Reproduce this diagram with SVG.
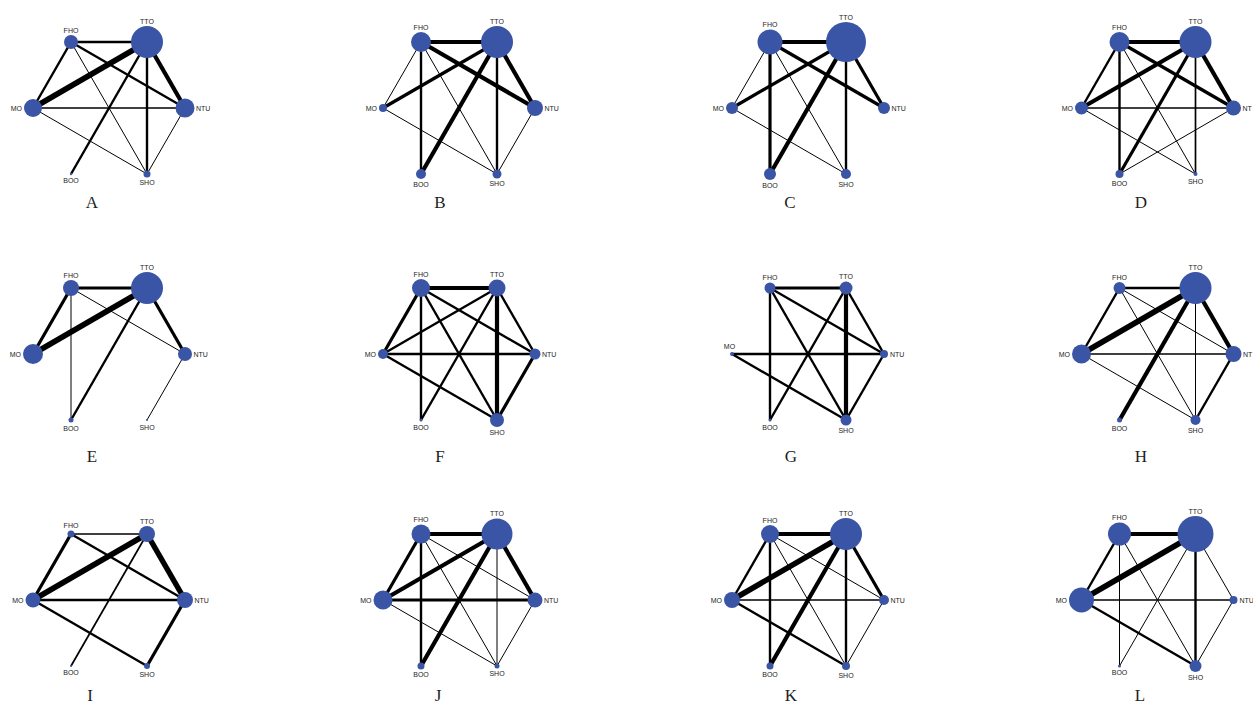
<svg xmlns="http://www.w3.org/2000/svg" width="1253" height="703" viewBox="0 0 1253 703">
<style>
.edges line{stroke:#000;stroke-linecap:butt;fill:none}
.e1{stroke-width:1}.e2{stroke-width:1.7}.e3{stroke-width:2.4}.e4{stroke-width:3.2}.e5{stroke-width:4.2}.e6{stroke-width:5.5}
.node circle{fill:#3A55A5}
.node text{font-family:"Liberation Sans",Arial,sans-serif;font-size:7px;fill:#1e1e1e}
.t{text-anchor:middle}.l{text-anchor:end}.r{text-anchor:start}
.cap{font-family:"Liberation Serif","Times New Roman",serif;font-size:17px;fill:#1e1e1e;text-anchor:middle}
</style>
<rect width="1253" height="703" fill="#fff"/>

<!-- Panel A -->
<g id="panel-A">
<g id="A-edges" class="edges">
<line class="e3" x1="71" y1="42" x2="147" y2="42"/>
<line class="e3" x1="71" y1="42" x2="33" y2="108"/>
<line class="e3" x1="71" y1="42" x2="185" y2="108"/>
<line class="e1" x1="71" y1="42" x2="147" y2="174"/>
<line class="e6" x1="147" y1="42" x2="33" y2="108"/>
<line class="e5" x1="147" y1="42" x2="185" y2="108"/>
<line class="e3" x1="147" y1="42" x2="71" y2="174"/>
<line class="e3" x1="147" y1="42" x2="147" y2="174"/>
<line class="e2" x1="33" y1="108" x2="185" y2="108"/>
<line class="e1" x1="33" y1="108" x2="147" y2="174"/>
<line class="e1" x1="185" y1="108" x2="147" y2="174"/>
</g>
<g id="A-FHO" class="node"><circle cx="71" cy="42" r="7"/><text class="t" x="71" y="32.5">FHO</text></g>
<g id="A-TTO" class="node"><circle cx="147" cy="42" r="16"/><text class="t" x="147" y="23.5">TTO</text></g>
<g id="A-MO" class="node"><circle cx="33" cy="108" r="9"/><text class="l" x="22" y="110.5">MO</text></g>
<g id="A-NTU" class="node"><circle cx="185" cy="108" r="9.5"/><text class="r" x="196" y="110.5">NTU</text></g>
<g id="A-BOO" class="node"><circle cx="71" cy="174" r="1.2"/><text class="t" x="71" y="182.5">BOO</text></g>
<g id="A-SHO" class="node"><circle cx="147" cy="174" r="3.5"/><text class="t" x="147" y="185">SHO</text></g>
<text class="cap" x="92" y="208">A</text>
</g>

<!-- Panel B -->
<g id="panel-B">
<g id="B-edges" class="edges">
<line class="e5" x1="421" y1="42" x2="497" y2="42"/>
<line class="e1" x1="421" y1="42" x2="383" y2="108"/>
<line class="e5" x1="421" y1="42" x2="535" y2="108"/>
<line class="e3" x1="421" y1="42" x2="421" y2="174"/>
<line class="e1" x1="421" y1="42" x2="497" y2="174"/>
<line class="e4" x1="497" y1="42" x2="383" y2="108"/>
<line class="e5" x1="497" y1="42" x2="535" y2="108"/>
<line class="e5" x1="497" y1="42" x2="421" y2="174"/>
<line class="e3" x1="497" y1="42" x2="497" y2="174"/>
<line class="e1" x1="383" y1="108" x2="497" y2="174"/>
<line class="e1" x1="535" y1="108" x2="497" y2="174"/>
</g>
<g id="B-FHO" class="node"><circle cx="421" cy="42" r="10"/><text class="t" x="421" y="29.5">FHO</text></g>
<g id="B-TTO" class="node"><circle cx="497" cy="42" r="16"/><text class="t" x="497" y="23.5">TTO</text></g>
<g id="B-MO" class="node"><circle cx="383" cy="108" r="4"/><text class="l" x="377" y="110.5">MO</text></g>
<g id="B-NTU" class="node"><circle cx="535" cy="108" r="8"/><text class="r" x="544.5" y="110.5">NTU</text></g>
<g id="B-BOO" class="node"><circle cx="421" cy="174" r="5"/><text class="t" x="421" y="186.5">BOO</text></g>
<g id="B-SHO" class="node"><circle cx="497" cy="174" r="4.5"/><text class="t" x="497" y="186">SHO</text></g>
<text class="cap" x="440" y="208">B</text>
</g>

<!-- Panel C -->
<g id="panel-C">
<g id="C-edges" class="edges">
<line class="e5" x1="770" y1="42" x2="846" y2="42"/>
<line class="e1" x1="770" y1="42" x2="732" y2="108"/>
<line class="e4" x1="770" y1="42" x2="884" y2="108"/>
<line class="e4" x1="770" y1="42" x2="770" y2="174"/>
<line class="e1" x1="770" y1="42" x2="846" y2="174"/>
<line class="e4" x1="846" y1="42" x2="732" y2="108"/>
<line class="e4" x1="846" y1="42" x2="884" y2="108"/>
<line class="e5" x1="846" y1="42" x2="770" y2="174"/>
<line class="e3" x1="846" y1="42" x2="846" y2="174"/>
<line class="e1" x1="732" y1="108" x2="846" y2="174"/>
</g>
<g id="C-FHO" class="node"><circle cx="770" cy="42" r="12.5"/><text class="t" x="770" y="27">FHO</text></g>
<g id="C-TTO" class="node"><circle cx="846" cy="42" r="20"/><text class="t" x="846" y="19.5">TTO</text></g>
<g id="C-MO" class="node"><circle cx="732" cy="108" r="6"/><text class="l" x="724" y="110.5">MO</text></g>
<g id="C-NTU" class="node"><circle cx="884" cy="108" r="6"/><text class="r" x="891.5" y="110.5">NTU</text></g>
<g id="C-BOO" class="node"><circle cx="770" cy="174" r="6"/><text class="t" x="770" y="187.5">BOO</text></g>
<g id="C-SHO" class="node"><circle cx="846" cy="174" r="5"/><text class="t" x="846" y="186.5">SHO</text></g>
<text class="cap" x="790" y="208">C</text>
</g>

<!-- Panel D -->
<g id="panel-D">
<g id="D-edges" class="edges">
<line class="e5" x1="1119.5" y1="42" x2="1195.5" y2="42"/>
<line class="e3" x1="1119.5" y1="42" x2="1081.5" y2="108"/>
<line class="e4" x1="1119.5" y1="42" x2="1233.5" y2="108"/>
<line class="e3" x1="1119.5" y1="42" x2="1119.5" y2="174"/>
<line class="e1" x1="1119.5" y1="42" x2="1195.5" y2="174"/>
<line class="e5" x1="1195.5" y1="42" x2="1081.5" y2="108"/>
<line class="e5" x1="1195.5" y1="42" x2="1233.5" y2="108"/>
<line class="e4" x1="1195.5" y1="42" x2="1119.5" y2="174"/>
<line class="e2" x1="1195.5" y1="42" x2="1195.5" y2="174"/>
<line class="e2" x1="1081.5" y1="108" x2="1233.5" y2="108"/>
<line class="e1" x1="1081.5" y1="108" x2="1195.5" y2="174"/>
<line class="e1" x1="1233.5" y1="108" x2="1119.5" y2="174"/>
</g>
<g id="D-FHO" class="node"><circle cx="1119.5" cy="42" r="10"/><text class="t" x="1119.5" y="29.5">FHO</text></g>
<g id="D-TTO" class="node"><circle cx="1195.5" cy="42" r="16"/><text class="t" x="1195.5" y="23.5">TTO</text></g>
<g id="D-MO" class="node"><circle cx="1081.5" cy="108" r="6.5"/><text class="l" x="1073" y="110.5">MO</text></g>
<g id="D-NTU" class="node"><circle cx="1233.5" cy="108" r="7.5"/><text class="r" x="1242.5" y="110.5">NT</text></g>
<g id="D-BOO" class="node"><circle cx="1119.5" cy="174" r="4"/><text class="t" x="1119.5" y="185.5">BOO</text></g>
<g id="D-SHO" class="node"><circle cx="1195.5" cy="174" r="2"/><text class="t" x="1195.5" y="183.5">SHO</text></g>
<text class="cap" x="1141" y="208">D</text>
</g>

<!-- Panel E -->
<g id="panel-E">
<g id="E-edges" class="edges">
<line class="e4" x1="71" y1="288" x2="147" y2="288"/>
<line class="e4" x1="71" y1="288" x2="33" y2="354"/>
<line class="e1" x1="71" y1="288" x2="185" y2="354"/>
<line class="e1" x1="71" y1="288" x2="71" y2="420"/>
<line class="e6" x1="147" y1="288" x2="33" y2="354"/>
<line class="e4" x1="147" y1="288" x2="185" y2="354"/>
<line class="e3" x1="147" y1="288" x2="71" y2="420"/>
<line class="e1" x1="185" y1="354" x2="147" y2="420"/>
</g>
<g id="E-FHO" class="node"><circle cx="71" cy="288" r="8"/><text class="t" x="71" y="277.5">FHO</text></g>
<g id="E-TTO" class="node"><circle cx="147" cy="288" r="16"/><text class="t" x="147" y="269.5">TTO</text></g>
<g id="E-MO" class="node"><circle cx="33" cy="354" r="10"/><text class="l" x="21" y="356.5">MO</text></g>
<g id="E-NTU" class="node"><circle cx="185" cy="354" r="7"/><text class="r" x="193.5" y="356.5">NTU</text></g>
<g id="E-BOO" class="node"><circle cx="71" cy="420" r="2.5"/><text class="t" x="71" y="430.5">BOO</text></g>
<g id="E-SHO" class="node"><circle cx="147" cy="420" r="1"/><text class="t" x="147" y="429.5">SHO</text></g>
<text class="cap" x="92" y="462">E</text>
</g>

<!-- Panel F -->
<g id="panel-F">
<g id="F-edges" class="edges">
<line class="e5" x1="421" y1="288" x2="497" y2="288"/>
<line class="e4" x1="421" y1="288" x2="383" y2="354"/>
<line class="e3" x1="421" y1="288" x2="535" y2="354"/>
<line class="e3" x1="421" y1="288" x2="421" y2="420"/>
<line class="e3" x1="421" y1="288" x2="497" y2="420"/>
<line class="e3" x1="497" y1="288" x2="383" y2="354"/>
<line class="e3" x1="497" y1="288" x2="535" y2="354"/>
<line class="e3" x1="497" y1="288" x2="421" y2="420"/>
<line class="e5" x1="497" y1="288" x2="497" y2="420"/>
<line class="e3" x1="383" y1="354" x2="535" y2="354"/>
<line class="e3" x1="383" y1="354" x2="497" y2="420"/>
<line class="e4" x1="535" y1="354" x2="497" y2="420"/>
</g>
<g id="F-FHO" class="node"><circle cx="421" cy="288" r="9"/><text class="t" x="421" y="276.5">FHO</text></g>
<g id="F-TTO" class="node"><circle cx="497" cy="288" r="8.5"/><text class="t" x="497" y="277">TTO</text></g>
<g id="F-MO" class="node"><circle cx="383" cy="354" r="5"/><text class="l" x="376" y="356.5">MO</text></g>
<g id="F-NTU" class="node"><circle cx="535" cy="354" r="5.5"/><text class="r" x="542" y="356.5">NTU</text></g>
<g id="F-BOO" class="node"><circle cx="421" cy="420" r="1.5"/><text class="t" x="421" y="429.5">BOO</text></g>
<g id="F-SHO" class="node"><circle cx="497" cy="420" r="7"/><text class="t" x="497" y="434.5">SHO</text></g>
<text class="cap" x="440" y="462">F</text>
</g>

<!-- Panel G -->
<g id="panel-G">
<g id="G-edges" class="edges">
<line class="e4" x1="770" y1="288" x2="846" y2="288"/>
<line class="e3" x1="770" y1="288" x2="884" y2="354"/>
<line class="e3" x1="770" y1="288" x2="770" y2="420"/>
<line class="e3" x1="770" y1="288" x2="846" y2="420"/>
<line class="e3" x1="846" y1="288" x2="884" y2="354"/>
<line class="e3" x1="846" y1="288" x2="770" y2="420"/>
<line class="e5" x1="846" y1="288" x2="846" y2="420"/>
<line class="e3" x1="732" y1="354" x2="884" y2="354"/>
<line class="e3" x1="732" y1="354" x2="846" y2="420"/>
<line class="e3" x1="884" y1="354" x2="846" y2="420"/>
</g>
<g id="G-FHO" class="node"><circle cx="770" cy="288" r="5.5"/><text class="t" x="770" y="280">FHO</text></g>
<g id="G-TTO" class="node"><circle cx="846" cy="288" r="6.5"/><text class="t" x="846" y="279">TTO</text></g>
<g id="G-MO" class="node"><circle cx="732" cy="354" r="2"/><text class="t" x="729.5" y="349">MO</text></g>
<g id="G-NTU" class="node"><circle cx="884" cy="354" r="4"/><text class="r" x="890" y="356.5">NTU</text></g>
<g id="G-BOO" class="node"><circle cx="770" cy="420" r="1.5"/><text class="t" x="770" y="429.5">BOO</text></g>
<g id="G-SHO" class="node"><circle cx="846" cy="420" r="5.5"/><text class="t" x="846" y="433">SHO</text></g>
<text class="cap" x="791" y="462">G</text>
</g>

<!-- Panel H -->
<g id="panel-H">
<g id="H-edges" class="edges">
<line class="e3" x1="1119.5" y1="288" x2="1195.5" y2="288"/>
<line class="e3" x1="1119.5" y1="288" x2="1081.5" y2="354"/>
<line class="e1" x1="1119.5" y1="288" x2="1233.5" y2="354"/>
<line class="e1" x1="1119.5" y1="288" x2="1195.5" y2="420"/>
<line class="e6" x1="1195.5" y1="288" x2="1081.5" y2="354"/>
<line class="e5" x1="1195.5" y1="288" x2="1233.5" y2="354"/>
<line class="e5" x1="1195.5" y1="288" x2="1119.5" y2="420"/>
<line class="e1" x1="1195.5" y1="288" x2="1195.5" y2="420"/>
<line class="e2" x1="1081.5" y1="354" x2="1233.5" y2="354"/>
<line class="e1" x1="1081.5" y1="354" x2="1195.5" y2="420"/>
<line class="e3" x1="1233.5" y1="354" x2="1195.5" y2="420"/>
</g>
<g id="H-FHO" class="node"><circle cx="1119.5" cy="288" r="6"/><text class="t" x="1119.5" y="279.5">FHO</text></g>
<g id="H-TTO" class="node"><circle cx="1195.5" cy="288" r="16"/><text class="t" x="1195.5" y="269.5">TTO</text></g>
<g id="H-MO" class="node"><circle cx="1081.5" cy="354" r="9.5"/><text class="l" x="1070" y="356.5">MO</text></g>
<g id="H-NTU" class="node"><circle cx="1233.5" cy="354" r="8"/><text class="r" x="1243" y="356.5">NT</text></g>
<g id="H-BOO" class="node"><circle cx="1119.5" cy="420" r="2.5"/><text class="t" x="1119.5" y="430.5">BOO</text></g>
<g id="H-SHO" class="node"><circle cx="1195.5" cy="420" r="5"/><text class="t" x="1195.5" y="433">SHO</text></g>
<text class="cap" x="1141" y="462">H</text>
</g>

<!-- Panel I -->
<g id="panel-I">
<g id="I-edges" class="edges">
<line class="e2" x1="71" y1="534" x2="147" y2="534"/>
<line class="e4" x1="71" y1="534" x2="33" y2="600"/>
<line class="e3" x1="71" y1="534" x2="185" y2="600"/>
<line class="e6" x1="147" y1="534" x2="33" y2="600"/>
<line class="e6" x1="147" y1="534" x2="185" y2="600"/>
<line class="e2" x1="147" y1="534" x2="71" y2="666"/>
<line class="e3" x1="33" y1="600" x2="185" y2="600"/>
<line class="e3" x1="33" y1="600" x2="147" y2="666"/>
<line class="e4" x1="185" y1="600" x2="147" y2="666"/>
</g>
<g id="I-FHO" class="node"><circle cx="71" cy="534" r="3.5"/><text class="t" x="71" y="528">FHO</text></g>
<g id="I-TTO" class="node"><circle cx="147" cy="534" r="8"/><text class="t" x="147" y="523.5">TTO</text></g>
<g id="I-MO" class="node"><circle cx="33" cy="600" r="7.5"/><text class="l" x="23.5" y="602.5">MO</text></g>
<g id="I-NTU" class="node"><circle cx="185" cy="600" r="8"/><text class="r" x="194.5" y="602.5">NTU</text></g>
<g id="I-BOO" class="node"><circle cx="71" cy="666" r="1"/><text class="t" x="71" y="675">BOO</text></g>
<g id="I-SHO" class="node"><circle cx="147" cy="666" r="3"/><text class="t" x="147" y="677">SHO</text></g>
<text class="cap" x="90" y="701">I</text>
</g>

<!-- Panel J -->
<g id="panel-J">
<g id="J-edges" class="edges">
<line class="e5" x1="421" y1="534" x2="497" y2="534"/>
<line class="e4" x1="421" y1="534" x2="383" y2="600"/>
<line class="e1" x1="421" y1="534" x2="535" y2="600"/>
<line class="e3" x1="421" y1="534" x2="421" y2="666"/>
<line class="e1" x1="421" y1="534" x2="497" y2="666"/>
<line class="e5" x1="497" y1="534" x2="383" y2="600"/>
<line class="e5" x1="497" y1="534" x2="535" y2="600"/>
<line class="e5" x1="497" y1="534" x2="421" y2="666"/>
<line class="e1" x1="497" y1="534" x2="497" y2="666"/>
<line class="e4" x1="383" y1="600" x2="535" y2="600"/>
<line class="e1" x1="383" y1="600" x2="497" y2="666"/>
<line class="e1" x1="535" y1="600" x2="497" y2="666"/>
</g>
<g id="J-FHO" class="node"><circle cx="421" cy="534" r="9.5"/><text class="t" x="421" y="522">FHO</text></g>
<g id="J-TTO" class="node"><circle cx="497" cy="534" r="15.5"/><text class="t" x="497" y="516">TTO</text></g>
<g id="J-MO" class="node"><circle cx="383" cy="600" r="9.5"/><text class="l" x="371.5" y="602.5">MO</text></g>
<g id="J-NTU" class="node"><circle cx="535" cy="600" r="7.5"/><text class="r" x="544" y="602.5">NTU</text></g>
<g id="J-BOO" class="node"><circle cx="421" cy="666" r="3.5"/><text class="t" x="421" y="677">BOO</text></g>
<g id="J-SHO" class="node"><circle cx="497" cy="666" r="2.5"/><text class="t" x="497" y="676">SHO</text></g>
<text class="cap" x="438" y="701">J</text>
</g>

<!-- Panel K -->
<g id="panel-K">
<g id="K-edges" class="edges">
<line class="e5" x1="770" y1="534" x2="846" y2="534"/>
<line class="e3" x1="770" y1="534" x2="732" y2="600"/>
<line class="e1" x1="770" y1="534" x2="884" y2="600"/>
<line class="e3" x1="770" y1="534" x2="770" y2="666"/>
<line class="e1" x1="770" y1="534" x2="846" y2="666"/>
<line class="e6" x1="846" y1="534" x2="732" y2="600"/>
<line class="e4" x1="846" y1="534" x2="884" y2="600"/>
<line class="e5" x1="846" y1="534" x2="770" y2="666"/>
<line class="e3" x1="846" y1="534" x2="846" y2="666"/>
<line class="e2" x1="732" y1="600" x2="884" y2="600"/>
<line class="e3" x1="732" y1="600" x2="846" y2="666"/>
<line class="e1" x1="884" y1="600" x2="846" y2="666"/>
</g>
<g id="K-FHO" class="node"><circle cx="770" cy="534" r="9"/><text class="t" x="770" y="522.5">FHO</text></g>
<g id="K-TTO" class="node"><circle cx="846" cy="534" r="16"/><text class="t" x="846" y="515.5">TTO</text></g>
<g id="K-MO" class="node"><circle cx="732" cy="600" r="8"/><text class="l" x="722" y="602.5">MO</text></g>
<g id="K-NTU" class="node"><circle cx="884" cy="600" r="5"/><text class="r" x="890.5" y="602.5">NTU</text></g>
<g id="K-BOO" class="node"><circle cx="770" cy="666" r="3.5"/><text class="t" x="770" y="677">BOO</text></g>
<g id="K-SHO" class="node"><circle cx="846" cy="666" r="4"/><text class="t" x="846" y="677.5">SHO</text></g>
<text class="cap" x="791" y="701">K</text>
</g>

<!-- Panel L -->
<g id="panel-L">
<g id="L-edges" class="edges">
<line class="e5" x1="1119.5" y1="534" x2="1195.5" y2="534"/>
<line class="e3" x1="1119.5" y1="534" x2="1081.5" y2="600"/>
<line class="e1" x1="1119.5" y1="534" x2="1119.5" y2="666"/>
<line class="e1" x1="1119.5" y1="534" x2="1195.5" y2="666"/>
<line class="e6" x1="1195.5" y1="534" x2="1081.5" y2="600"/>
<line class="e1" x1="1195.5" y1="534" x2="1233.5" y2="600"/>
<line class="e1" x1="1195.5" y1="534" x2="1119.5" y2="666"/>
<line class="e3" x1="1195.5" y1="534" x2="1195.5" y2="666"/>
<line class="e2" x1="1081.5" y1="600" x2="1233.5" y2="600"/>
<line class="e3" x1="1081.5" y1="600" x2="1195.5" y2="666"/>
<line class="e1" x1="1233.5" y1="600" x2="1195.5" y2="666"/>
</g>
<g id="L-FHO" class="node"><circle cx="1119.5" cy="534" r="11.5"/><text class="t" x="1119.5" y="520">FHO</text></g>
<g id="L-TTO" class="node"><circle cx="1195.5" cy="534" r="18"/><text class="t" x="1195.5" y="513.5">TTO</text></g>
<g id="L-MO" class="node"><circle cx="1081.5" cy="600" r="12.5"/><text class="l" x="1067" y="602.5">MO</text></g>
<g id="L-NTU" class="node"><circle cx="1233.5" cy="600" r="4"/><text class="r" x="1239.5" y="602.5">NTU</text></g>
<g id="L-BOO" class="node"><circle cx="1119.5" cy="666" r="1.5"/><text class="t" x="1119.5" y="675">BOO</text></g>
<g id="L-SHO" class="node"><circle cx="1195.5" cy="666" r="6"/><text class="t" x="1195.5" y="679.5">SHO</text></g>
<text class="cap" x="1140" y="701">L</text>
</g>
</svg>
